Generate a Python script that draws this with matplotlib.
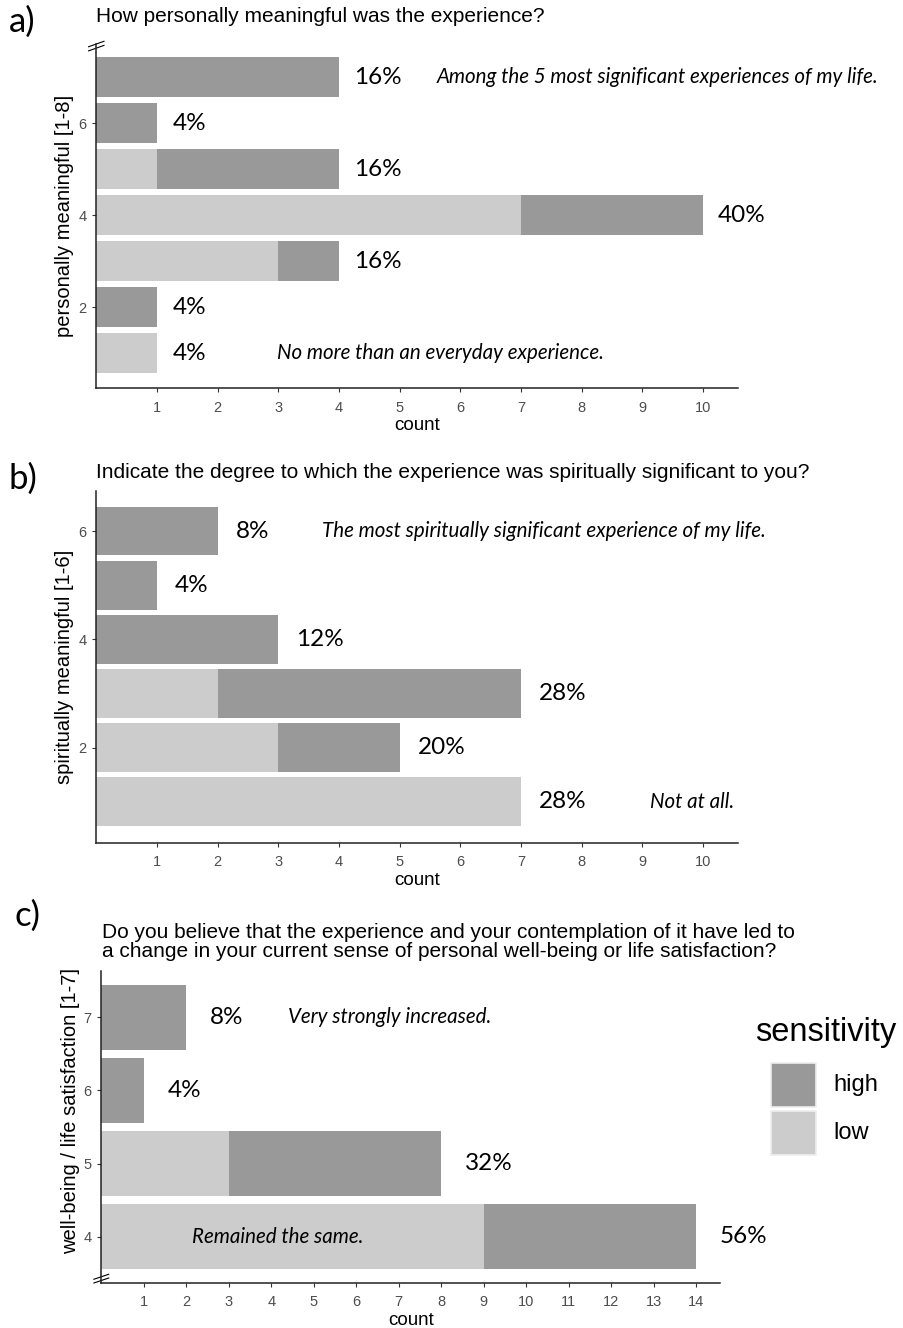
import matplotlib
matplotlib.use("Agg")
import matplotlib.pyplot as plt
from matplotlib.patches import Rectangle
from matplotlib.lines import Line2D

# ---------------- data ----------------
a_levels = [1, 2, 3, 4, 5, 6, 7]
a_low = [1, 0, 3, 7, 1, 0, 0]
a_high = [0, 1, 1, 3, 3, 1, 4]
a_pct = ["4%", "4%", "16%", "40%", "16%", "4%", "16%"]

b_levels = [1, 2, 3, 4, 5, 6]
b_low = [7, 3, 2, 0, 0, 0]
b_high = [0, 2, 5, 3, 1, 2]
b_pct = ["28%", "20%", "28%", "12%", "4%", "8%"]

c_levels = [4, 5, 6, 7]
c_low = [9, 3, 0, 0]
c_high = [5, 5, 1, 2]
c_pct = ["56%", "32%", "4%", "8%"]

a_title = "How personally meaningful was the experience?"
b_title = "Indicate the degree to which the experience was spiritually significant to you?"
c_title = ("Do you believe that the experience and your contemplation of it have led to\n"
           "a change in your current sense of personal well-being or life satisfaction?")

a_ylabel = "personally meaningful [1-8]"
b_ylabel = "spiritually meaningful [1-6]"
c_ylabel = "well-being / life satisfaction [1-7]"

a_yticks = [2, 4, 6]
b_yticks = [2, 4, 6]
c_yticks = [4, 5, 6, 7]
ab_xticks = list(range(1, 11))
c_xticks = list(range(1, 15))

legend_title = "sensitivity"
legend_labels = ["high", "low"]

HIGH = "#999999"
LOW = "#cccccc"
legend_colors = [HIGH, LOW]

SANS = ["Liberation Sans", "DejaVu Sans"]
CAL = ["Lato", "DejaVu Sans"]

W, H = 904, 1328
fig = plt.figure(figsize=(W / 100, H / 100), dpi=100)


def px_axes(x0, y_top, x1, y_bot):
    return fig.add_axes([x0 / W, 1 - y_bot / H, (x1 - x0) / W, (y_bot - y_top) / H])


def draw_panel(ax, levels, low, high, pct, yticks, xticks, xlim, ylim, ylabel,
               barh, pct_off):
    ax.barh(levels, low, height=barh, color=LOW, edgecolor="none", label="low")
    ax.barh(levels, high, left=low, height=barh, color=HIGH, edgecolor="none",
            label="high")
    for lv, lo, hi, p in zip(levels, low, high, pct):
        ax.annotate(p, xy=(lo + hi, lv), xytext=(pct_off, 0),
                    textcoords="offset points", ha="left", va="center",
                    fontsize=17.5, family=CAL, color="black")
    ax.set_xlim(*xlim)
    ax.set_ylim(*ylim)
    ax.set_xticks(xticks)
    ax.set_yticks(yticks)
    ax.tick_params(axis="both", labelsize=10.5, colors="#333333", length=3,
                   width=0.8, labelcolor="#4d4d4d", pad=4)
    ax.tick_params(axis="x", pad=6)
    for lab in ax.get_xticklabels() + ax.get_yticklabels():
        lab.set_family(SANS)
    for s in ["top", "right"]:
        ax.spines[s].set_visible(False)
    for s in ["left", "bottom"]:
        ax.spines[s].set_linewidth(1.1)
        ax.spines[s].set_color("#222222")
    ax.set_xlabel("count", fontsize=13.5, family=SANS, labelpad=2)
    ax.set_ylabel(ylabel, fontsize=14.5, family=SANS, labelpad=3)


def break_mark(ax, yfrac):
    for dy in (-0.012, 0.0):
        ax.add_line(Line2D([-0.012, 0.012], [yfrac + dy - 0.008, yfrac + dy + 0.008],
                           transform=ax.transAxes, color="black", lw=0.8,
                           clip_on=False))


ITAL = dict(fontsize=14.8, style="italic", family=CAL, va="center", ha="left")

# ---------------- panel a ----------------
axa = px_axes(96.3, 44, 738, 388)
draw_panel(axa, a_levels, a_low, a_high, a_pct, a_yticks, ab_xticks,
           (0, 10.58), (0.24, 7.72), a_ylabel, 0.87, 11)
axa.text(5.62, 7, "Among the 5 most significant experiences of my life.", **ITAL)
axa.text(2.98, 1, "No more than an everyday experience.", **ITAL)
break_mark(axa, 1.0)

# ---------------- panel b ----------------
axb = px_axes(96.3, 491, 738, 843)
draw_panel(axb, b_levels, b_low, b_high, b_pct, b_yticks, ab_xticks,
           (0, 10.58), (0.24, 6.74), b_ylabel, 0.9, 13)
axb.text(3.72, 6, "The most spiritually significant experience of my life.", **ITAL)
axb.text(9.13, 1, "Not at all.", **ITAL)

# ---------------- panel c ----------------
axc = px_axes(101.3, 971, 720, 1283)
draw_panel(axc, c_levels, c_low, c_high, c_pct, c_yticks, c_xticks,
           (0, 14.56), (3.37, 7.63), c_ylabel, 0.89, 17)
axc.text(4.39, 7, "Very strongly increased.", **ITAL)
axc.text(2.13, 4, "Remained the same.", **ITAL)
break_mark(axc, 0.02)
axc.yaxis.set_label_coords(-0.034, 0.55)

# ---------------- titles & panel labels ----------------
fig.text(96 / W, 1 - 17 / H, a_title, fontsize=15, family=SANS, va="center", ha="left")
fig.text(96 / W, 1 - 472 / H, b_title, fontsize=15, family=SANS, va="center", ha="left")
fig.text(102 / W, 1 - 942 / H, c_title, fontsize=15, family=SANS, va="center",
         ha="left", linespacing=0.95)
fig.text(9 / W, 1 - 22 / H, "a)", fontsize=25, family=CAL, va="center", ha="left")
fig.text(9 / W, 1 - 479 / H, "b)", fontsize=25, family=CAL, va="center", ha="left")
fig.text(15 / W, 1 - 916 / H, "c)", fontsize=25, family=CAL, va="center", ha="left")

# ---------------- legend (manual) ----------------
fig.text(755 / W, 1 - 1033 / H, legend_title, fontsize=23.5, family=SANS,
         va="center", ha="left")
box_tops = [1063, 1111]
for top, lab, col in zip(box_tops, legend_labels, legend_colors):
    fig.patches.append(Rectangle((771 / W, 1 - (top + 44) / H), 45 / W, 44 / H,
                                 transform=fig.transFigure, facecolor=col,
                                 edgecolor="#eeeeee", lw=1.2))
    fig.text(833 / W, 1 - (top + 22) / H, lab, fontsize=17, family=SANS,
             va="center", ha="left")

fig.savefig("out.png", dpi=100)
